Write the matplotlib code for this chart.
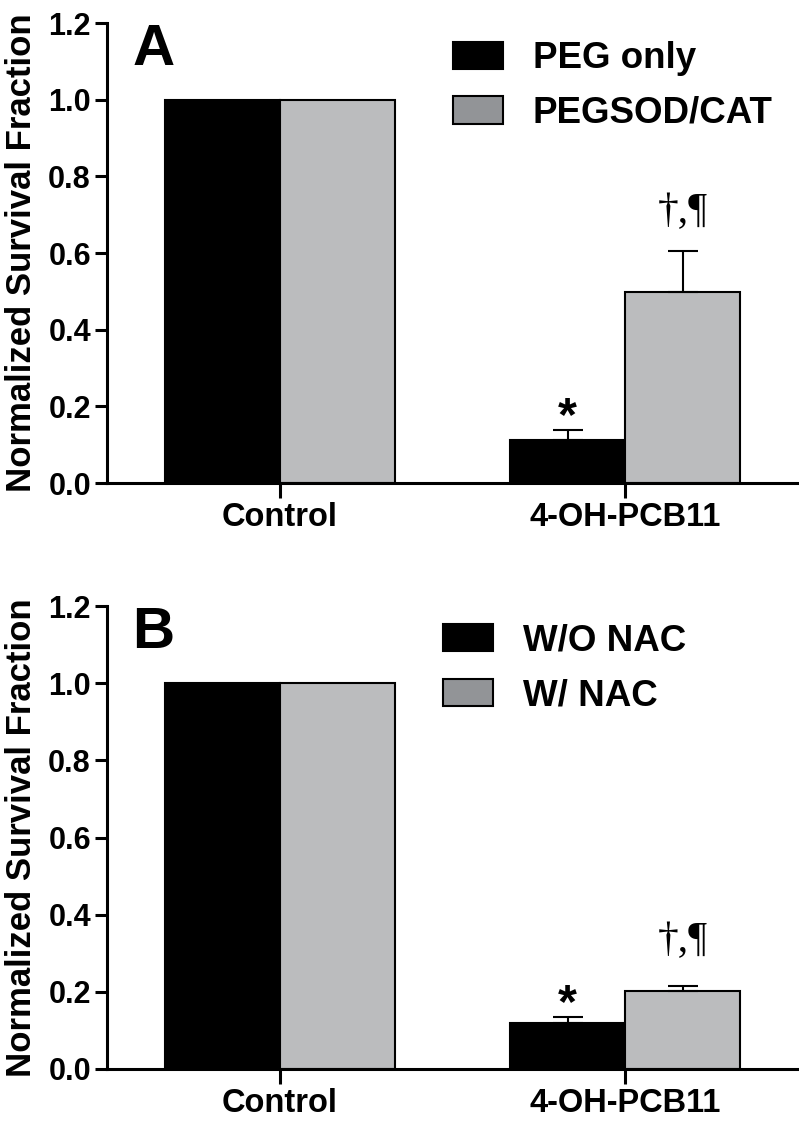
import matplotlib
matplotlib.use('Agg')
import matplotlib.pyplot as plt
from matplotlib.patches import Patch
import numpy as np

# data
groups = ['Control', '4-OH-PCB11']

peg_only = [1.0, 0.112]
peg_only_err = [0.0, 0.025]
pegsod_cat = [1.0, 0.497]
pegsod_cat_err = [0.0, 0.107]

wo_nac = [1.0, 0.118]
wo_nac_err = [0.0, 0.017]
w_nac = [1.0, 0.202]
w_nac_err = [0.0, 0.013]

yticks = [0.0, 0.2, 0.4, 0.6, 0.8, 1.0, 1.2]

BAR_GRAY = '#bbbcbe'
LEG_GRAY = '#929497'
SANS = 'Liberation Sans'


def panel(ax, letter, s1, e1, s2, e2, labels, sig1, sig2, leg_xy, dag_off):
    x = np.arange(len(groups))
    w = 0.333
    ax.bar(x - w / 2, s1, w, color='black', edgecolor='black', linewidth=1.5, zorder=1)
    ax.bar(x + w / 2, s2, w, color=BAR_GRAY, edgecolor='black', linewidth=1.5, zorder=1)

    for xs, vals, errs in [(x - w / 2, s1, e1), (x + w / 2, s2, e2)]:
        for xi, v, e in zip(xs, vals, errs):
            if e > 0:
                ax.errorbar(xi, v, yerr=[[0], [e]], fmt='none', ecolor='black',
                            elinewidth=1.5, capsize=10.5, capthick=1.5, zorder=2)

    # significance marks over the treated bars
    ax.annotate(sig1, (x[1] - w / 2, s1[1] + e1[1]), xytext=(0, 0),
                textcoords='offset points', ha='center', va='baseline',
                fontsize=35, fontweight='bold', family=SANS)
    ax.annotate(sig2, (x[1] + w / 2, s2[1] + e2[1]), xytext=(0, dag_off),
                textcoords='offset points', ha='center', va='baseline',
                fontsize=30, family='Liberation Serif')

    ax.set_xlim(-0.5, 1.5)
    ax.set_ylim(0, 1.2)
    ax.set_yticks(yticks)
    ax.set_yticklabels(['%.1f' % t for t in yticks])
    ax.set_xticks(x)
    ax.set_xticklabels(groups)
    for lab in ax.get_yticklabels():
        lab.set_fontsize(22)
        lab.set_fontweight('bold')
        lab.set_family(SANS)
    for lab in ax.get_xticklabels():
        lab.set_fontsize(23.5)
        lab.set_fontweight('bold')
        lab.set_family(SANS)
    ax.tick_params(axis='y', direction='out', length=8.6, width=2.2, pad=3)
    ax.tick_params(axis='x', direction='out', length=10.8, width=2.2, pad=3)
    for s in ['top', 'right']:
        ax.spines[s].set_visible(False)
    for s in ['left', 'bottom']:
        ax.spines[s].set_linewidth(2.2)

    ax.set_ylabel('Normalized Survival Fraction', fontsize=25, fontweight='bold', family=SANS)
    ax.yaxis.set_label_coords(-0.1, 0.5)

    ax.text(0.037, 0.909, letter, transform=ax.transAxes, ha='left', va='baseline',
            fontsize=42, fontweight='bold', family=SANS)

    handles = [Patch(facecolor='black', edgecolor='black', linewidth=1.5),
               Patch(facecolor=LEG_GRAY, edgecolor='black', linewidth=1.5)]
    ax.legend(handles, labels, loc='upper left', bbox_to_anchor=leg_xy,
              frameon=False, prop={'family': SANS, 'weight': 'bold', 'size': 26.5},
              handlelength=1.36, handleheight=0.76, handletextpad=0.82,
              labelspacing=0.54, borderpad=0, borderaxespad=0)


fig = plt.figure(figsize=(7.99, 11.21), dpi=100)
ax1 = fig.add_axes([107 / 799, 1 - 483 / 1121, 691 / 799, 460 / 1121])
ax2 = fig.add_axes([107 / 799, 1 - 1069 / 1121, 691 / 799, 463 / 1121])

panel(ax1, 'A', peg_only, peg_only_err, pegsod_cat, pegsod_cat_err,
      ['PEG only', 'PEGSOD/CAT'], '*', '\u2020,\u00b6', (0.5, 0.961), 21)
panel(ax2, 'B', wo_nac, wo_nac_err, w_nac, w_nac_err,
      ['W/O NAC', 'W/ NAC'], '*', '\u2020,\u00b6', (0.486, 0.963), 25)

fig.savefig('out.png', dpi=100)
